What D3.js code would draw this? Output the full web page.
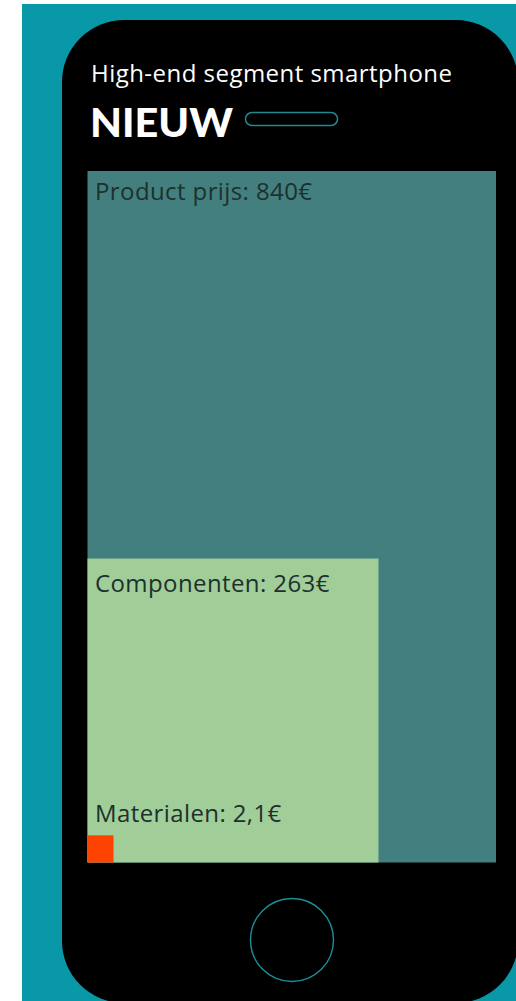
<!DOCTYPE html>
<html>
<head>
<meta charset="utf-8">
<script src="https://cdn.jsdelivr.net/npm/d3@7"></script>
<style>
  html, body { margin: 0; padding: 0; background: #ffffff; }
  svg { display: block; }
</style>
</head>
<body>
<script>
// Cost breakdown of a high-end smartphone (new)
const categories = ["Product prijs", "Componenten", "Materialen"];
const values = [840, 263, 2.1];
const valueLabels = ["840€", "263€", "2,1€"];
const colors = ["#437f7e", "#a0cd98", "#fe4200"];
const title = "High-end segment smartphone";
const subtitle = "NIEUW";

const W = 516, H = 1001;
const svg = d3.select("body").append("svg")
  .attr("width", W).attr("height", H);

// teal backdrop
svg.append("rect")
  .attr("x", 22).attr("y", 4)
  .attr("width", W - 22).attr("height", H - 4)
  .attr("fill", "#0898a7");

// phone body
svg.append("rect")
  .attr("x", 62).attr("y", 20)
  .attr("width", 456).attr("height", 983)
  .attr("rx", 62).attr("ry", 62)
  .attr("fill", "#000000");

// speaker slot
svg.append("rect")
  .attr("x", 245.5).attr("y", 112.5)
  .attr("width", 92).attr("height", 13)
  .attr("rx", 6.5)
  .attr("fill", "none")
  .attr("stroke", "#1f8a92")
  .attr("stroke-width", 1.5);

// home button
svg.append("circle")
  .attr("cx", 292).attr("cy", 940)
  .attr("r", 41.5)
  .attr("fill", "none")
  .attr("stroke", "#1b8f98")
  .attr("stroke-width", 1.4);

// headings
svg.append("text")
  .attr("x", 91).attr("y", 82)
  .attr("fill", "#ffffff")
  .attr("font-family", "'Open Sans', sans-serif")
  .attr("font-size", 24)
  .attr("textLength", 361)
  .attr("lengthAdjust", "spacing")
  .text(title);

svg.append("text")
  .attr("x", 90).attr("y", 137)
  .attr("fill", "#ffffff")
  .attr("font-family", "Lato, 'Open Sans', sans-serif")
  .attr("font-weight", 900)
  .attr("font-size", 40)
  .attr("textLength", 143)
  .attr("lengthAdjust", "spacingAndGlyphs")
  .text(subtitle);

// screen area: shapes sit in the bottom-left corner, area proportional to value
const screen = { x: 87.5, y: 171, right: 496, bottom: 862.5 };
const maxW = screen.right - screen.x;
const maxArea = maxW * (screen.bottom - screen.y);

// area scale (value -> pixel area), side via sqrt
const area = d3.scaleLinear()
  .domain([0, d3.max(values)])
  .range([0, maxArea]);
const aspect = 1.022;

const data = categories.map((c, i) => {
  const a = area(values[i]);
  const side = Math.sqrt(a);
  let w = Math.min(side / aspect, maxW);
  let h = a / w;
  return { name: c, value: values[i], label: valueLabels[i], color: colors[i], w, h };
});

const g = svg.append("g");

g.selectAll("rect.block")
  .data(data)
  .join("rect")
  .attr("class", "block")
  .attr("x", screen.x)
  .attr("y", d => screen.bottom - d.h)
  .attr("width", d => d.w)
  .attr("height", d => d.h)
  .attr("fill", d => d.color);

// labels: inside the larger shapes, above the tiny one
g.selectAll("text.lbl")
  .data(data)
  .join("text")
  .attr("class", "lbl")
  .attr("x", 95)
  .attr("y", d => {
    const top = screen.bottom - d.h;
    return d.h > 100 ? top + (d.value > 500 ? 29 : 33) : top - 13;
  })
  .attr("fill", "#1c312d")
  .attr("font-family", "'Open Sans', sans-serif")
  .attr("font-size", 24)
  .attr("letter-spacing", 0.4)
  .text(d => `${d.name}: ${d.label}`);
</script>
</body>
</html>
